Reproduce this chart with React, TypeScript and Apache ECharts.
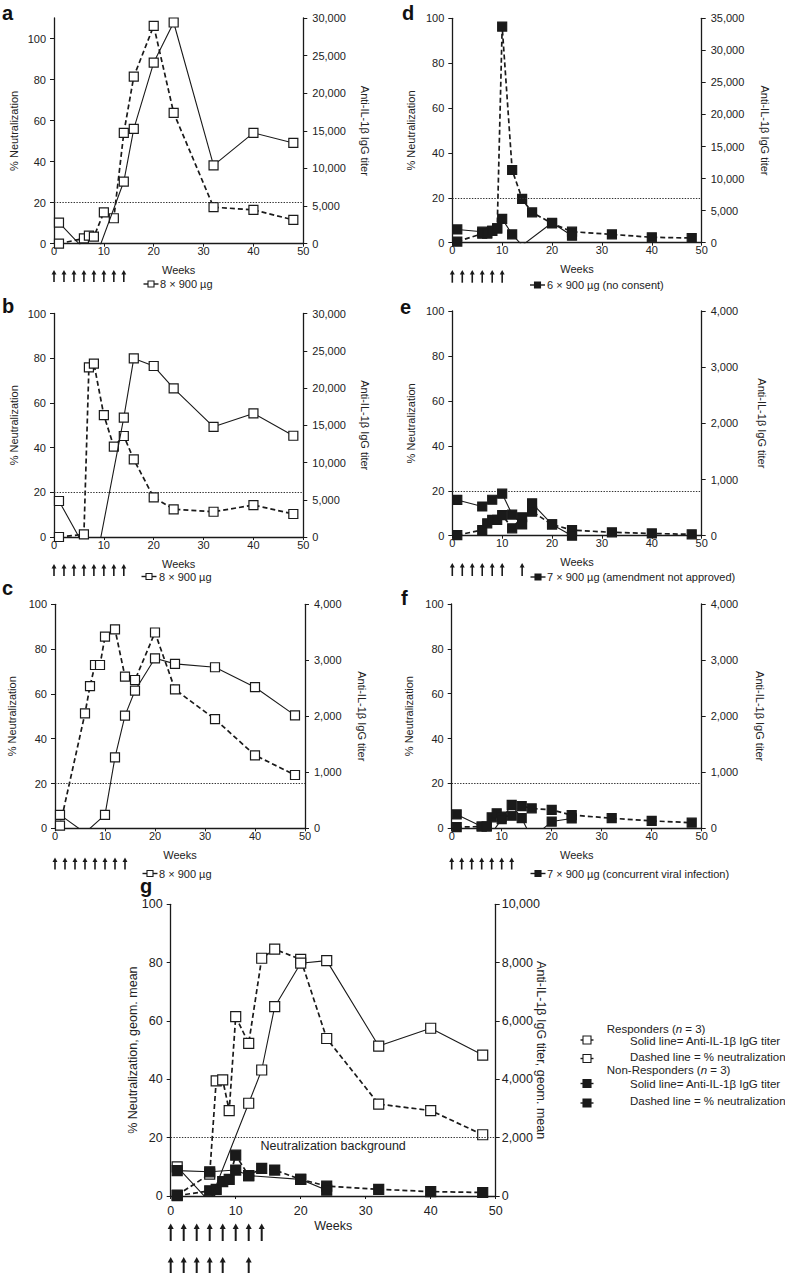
import React, { useEffect, useRef } from "react";
import * as echarts from "echarts";

const FONT = "'Liberation Sans', Arial, Helvetica, sans-serif";
const INK = "#1a1a1a";

// ---------------- data ----------------
// Solid line = anti-IL-1β IgG titer (right axis); dashed line = % neutralization (left axis).
// Titer values below 0 are the off-scale parts of the curves (clipped by the axis, as in the figure).

// Panel a (8 × 900 µg)
const aNeutWeeks = [1, 6, 7, 8, 10, 12, 14, 16, 20, 24, 32, 40, 48];
const aNeutValues = [0, 2.6, 3.9, 3.4, 15.3, 12.4, 54, 81.4, 106.2, 63.8, 17.8, 16.5, 11.6];
const aTiterWeeks = [1, 6, 8, 14, 16, 20, 24, 32, 40, 48];
const aTiterValues = [2810, -700, -2500, 8260, 15270, 24080, 29400, 10420, 14730, 13390];

// Panel b (8 × 900 µg)
const bNeutWeeks = [1, 6, 7, 8, 10, 12, 14, 16, 20, 24, 32, 40, 48];
const bNeutValues = [0, 1.2, 75.9, 77.6, 54.5, 40.4, 45.2, 34.7, 17.7, 12.4, 11.3, 14.3, 10.3];
const bTiterWeeks = [1, 6, 8, 14, 16, 20, 24, 32, 40, 48];
const bTiterValues = [4830, -1200, -4900, 16020, 23970, 22950, 19950, 14790, 16590, 13590];

// Panel c (8 × 900 µg)
const cNeutWeeks = [1, 6, 7, 8, 9, 10, 12, 14, 16, 20, 24, 32, 40, 48];
const cNeutValues = [1.2, 51.3, 63.5, 72.9, 72.9, 85.6, 88.8, 67.7, 66.2, 87.4, 62, 48.7, 32.6, 23.8];
const cTiterWeeks = [1, 6, 10, 12, 14, 16, 20, 24, 32, 40, 48];
const cTiterValues = [240, -80, 240, 1268, 2012, 2460, 3036, 2936, 2876, 2520, 2016];

// Panel d (6 × 900 µg, no consent)
const dNeutWeeks = [1, 6, 7, 8, 9, 10, 12, 14, 16, 20, 24, 32, 40, 48];
const dNeutValues = [0.5, 4.0, 4.2, 5.3, 6.4, 96.3, 32.4, 19.5, 13.5, 8.6, 4.9, 3.7, 2.4, 2.1];
const dTiterWeeks = [1, 6, 7, 8, 9, 10, 12, 14, 20, 24];
const dTiterValues = [2065, 1715, 1470, 1855, 2240, 3710, 1295, -420, 3115, 1085];

// Panel e (7 × 900 µg, amendment not approved)
const eNeutWeeks = [1, 6, 7, 8, 9, 10, 12, 14, 16, 20, 24, 32, 40, 48];
const eNeutValues = [0.3, 2.5, 5.5, 7, 7, 9.2, 3.3, 8.2, 10.7, 5, 2.5, 1.5, 1, 0.6];
const eTiterWeeks = [1, 6, 8, 10, 12, 14, 16, 20, 24];
const eTiterValues = [636, 520, 640, 748, 376, 200, 576, 200, 0];

// Panel f (7 × 900 µg, concurrent viral infection)
const fNeutWeeks = [1, 6, 7, 8, 9, 10, 12, 14, 16, 20, 24, 32, 40, 48];
const fNeutValues = [0.5, 0.8, 0.8, 4.9, 6.7, 5.2, 5.6, 9.9, 8.9, 8.2, 5.9, 4.5, 3.3, 2.5];
const fTiterWeeks = [1, 6, 7, 8, 10, 12, 14, 16, 20, 24];
const fTiterValues = [248, 32, 32, -88, 164, 416, 180, -180, 120, 176];

// Panel g (geometric means) – responders (open) / non-responders (filled)
const gRespNeutWeeks = [1, 6, 7, 8, 9, 10, 12, 14, 16, 20, 24, 32, 40, 48];
const gRespNeutValues = [0.3, 7.5, 39.5, 39.8, 29.3, 61.5, 52.3, 81.5, 84.6, 81.1, 54, 31.5, 29.3, 21];
const gRespTiterWeeks = [1, 6, 12, 14, 16, 20, 24, 32, 40, 48];
const gRespTiterValues = [1000, -200, 3180, 4320, 6490, 7980, 8070, 5140, 5750, 4830];
const gNonNeutWeeks = [1, 6, 7, 8, 9, 10, 12, 14, 16, 20, 24, 32, 40, 48];
const gNonNeutValues = [0.1, 1.8, 2.3, 4.9, 5.7, 14, 7, 9.5, 8.9, 5.7, 3.4, 2.3, 1.5, 1.2];
const gNonTiterWeeks = [1, 6, 10, 12, 20, 24];
const gNonTiterValues = [870, 830, 890, 700, 570, 200];

// vaccination weeks (arrows)
const vaccEight = [0, 2, 4, 6, 8, 10, 12, 14];
const vaccSix = [0, 2, 4, 6, 8, 10];
const vaccSevenE = [0, 2, 4, 6, 8, 10, 14];
const vaccSevenF = [0, 2, 4, 6, 8, 10, 12];
const vaccNonResp = [0, 2, 4, 6, 8, 12];

// tick values
const leftTicks = [0, 20, 40, 60, 80, 100];
const backgroundLevel = 20;

const panelLetters = ["a", "b", "c", "d", "e", "f", "g"];
const legendLabels = [
  "8 × 900 µg",
  "8 × 900 µg",
  "8 × 900 µg",
  "6 × 900 µg (no consent)",
  "7 × 900 µg (amendment not approved)",
  "7 × 900 µg (concurrent viral infection)",
];

// ---------------- layout ----------------
const layout = [
  { grid: [54, 18, 249.3, 225.7], leftMax: 110, rightMax: 30000, rightStep: 5000, leftGap: 35, rightGap: 56.5, rightMargin: 9, title: [2, 13], legend: [151, 284, 160], arrows: [270, 282] },
  { grid: [54, 313.5, 249.3, 223.5], leftMax: 100, rightMax: 30000, rightStep: 5000, leftGap: 35, rightGap: 56.5, rightMargin: 9, title: [2, 306], legend: [149, 576.5, 159], arrows: [564, 576] },
  { grid: [55, 604.3, 250, 224], leftMax: 100, rightMax: 4000, rightStep: 1000, leftGap: 38, rightGap: 51.5, rightMargin: 9, title: [2, 588], legend: [150, 873.5, 159], arrows: [857.5, 869.5] },
  { grid: [452.3, 18.3, 249.4, 224.4], leftMax: 100, rightMax: 35000, rightStep: 5000, leftGap: 36, rightGap: 58, rightMargin: 9, title: [402, 13], legend: [537.5, 285, 547], arrows: [270, 282.7] },
  { grid: [452.3, 311, 249.4, 224.7], leftMax: 100, rightMax: 4000, rightStep: 1000, leftGap: 36, rightGap: 54.5, rightMargin: 9, title: [400, 306.5], legend: [538, 577, 547], arrows: [563, 576] },
  { grid: [451.7, 604, 250, 224.3], leftMax: 100, rightMax: 4000, rightStep: 1000, leftGap: 37, rightGap: 53, rightMargin: 9, title: [401, 598], legend: [538, 873.5, 547], arrows: [857.5, 869.5] },
  { grid: [170.7, 904.3, 325, 291.7], leftMax: 100, rightMax: 10000, rightStep: 2000, leftGap: 31, rightGap: 39, rightMargin: 6, title: [140, 886], legend: null, arrows: null },
];

const panelSeries = [
  { neut: [[aNeutWeeks, aNeutValues, false]], titer: [[aTiterWeeks, aTiterValues, false]], vacc: [vaccEight] },
  { neut: [[bNeutWeeks, bNeutValues, false]], titer: [[bTiterWeeks, bTiterValues, false]], vacc: [vaccEight] },
  { neut: [[cNeutWeeks, cNeutValues, false]], titer: [[cTiterWeeks, cTiterValues, false]], vacc: [vaccEight] },
  { neut: [[dNeutWeeks, dNeutValues, true]], titer: [[dTiterWeeks, dTiterValues, true]], vacc: [vaccSix] },
  { neut: [[eNeutWeeks, eNeutValues, true]], titer: [[eTiterWeeks, eTiterValues, true]], vacc: [vaccSevenE] },
  { neut: [[fNeutWeeks, fNeutValues, true]], titer: [[fTiterWeeks, fTiterValues, true]], vacc: [vaccSevenF] },
  {
    neut: [[gRespNeutWeeks, gRespNeutValues, false], [gNonNeutWeeks, gNonNeutValues, true]],
    titer: [[gRespTiterWeeks, gRespTiterValues, false], [gNonTiterWeeks, gNonTiterValues, true]],
    vacc: [vaccEight, vaccNonResp],
  },
];

const thousands = (v: number) => String(v).replace(/\B(?=(\d{3})+(?!\d))/g, ",");

function buildOption() {
  const grids: any[] = [];
  const xAxes: any[] = [];
  const yAxes: any[] = [];
  const series: any[] = [];

  layout.forEach((L, i) => {
    const isG = i === 6;
    const fs = isG ? 12.5 : 11;
    const [left, top, width, height] = L.grid;
    grids.push({ left, top, width, height, containLabel: false, outerBoundsMode: "none" });
    const axisLine = { show: true, onZero: false, lineStyle: { color: INK, width: 1.3 } };
    xAxes.push({
      type: "value", gridIndex: i, min: 0, max: 50, interval: 10,
      axisLine,
      axisTick: { show: true, length: 3, lineStyle: { color: INK, width: 1 } },
      axisLabel: { fontSize: fs, color: "#222", margin: isG ? 8 : 2, fontFamily: FONT, showMinLabel: true, showMaxLabel: true },
      splitLine: { show: false },
      name: "Weeks", nameLocation: "middle", nameGap: isG ? 23 : 21, nameMoveOverlap: false,
      nameTextStyle: { fontSize: fs, color: "#222", fontFamily: FONT },
    });
    yAxes.push({
      type: "value", gridIndex: i, position: "left", min: 0, max: L.leftMax, interval: 20,
      axisLine,
      axisTick: { show: true, length: 4, customValues: leftTicks, lineStyle: { color: INK, width: 1 } },
      axisLabel: {
        fontSize: fs, color: "#222", margin: 8, fontFamily: FONT, customValues: leftTicks,
        formatter: (v: number) => (v > 100 ? "" : String(v)),
      },
      splitLine: { show: false },
      name: isG ? "% Neutralization, geom. mean" : "% Neutralization",
      nameLocation: "middle", nameGap: L.leftGap, nameRotate: 90, nameMoveOverlap: false,
      nameTextStyle: { fontSize: fs, color: "#222", fontFamily: FONT },
    });
    yAxes.push({
      type: "value", gridIndex: i, position: "right", min: 0, max: L.rightMax, interval: L.rightStep,
      axisLine,
      axisTick: { show: true, length: 4, lineStyle: { color: INK, width: 1 } },
      axisLabel: { fontSize: fs, color: "#222", margin: L.rightMargin, fontFamily: FONT, formatter: thousands },
      splitLine: { show: false },
      name: isG ? "Anti-IL-1β IgG titer, geom. mean" : "Anti-IL-1β IgG titer",
      nameLocation: "middle", nameGap: L.rightGap, nameRotate: -90, nameMoveOverlap: false,
      nameTextStyle: { fontSize: fs, color: "#222", fontFamily: FONT },
    });

    const P = panelSeries[i];
    const sym = isG ? 10 : 9;
    P.neut.forEach((s: any, k: number) => {
      const [weeks, values, filled] = s;
      series.push({
        type: "line", name: `${panelLetters[i]} neutralization ${k}`,
        xAxisIndex: i, yAxisIndex: 2 * i,
        data: weeks.map((w: number, j: number) => [w, values[j]]),
        symbol: "rect", symbolSize: sym, showSymbol: true, clip: true, silent: true,
        itemStyle: { color: filled ? INK : "#fff", borderColor: INK, borderWidth: 1.2 },
        lineStyle: { color: INK, width: 1.7, type: [5, 3] },
        z: 3 + k,
        markLine: k === 0 ? {
          silent: true, symbol: ["none", "none"], animation: false,
          lineStyle: { type: [1.4, 1.4], color: "#333", width: 1.1 },
          label: isG
            ? { show: true, position: "insideMiddleBottom", formatter: "Neutralization background", fontSize: 12.5, color: "#222", fontFamily: FONT, distance: 2 }
            : { show: false },
          data: [{ yAxis: backgroundLevel }],
        } : undefined,
      });
    });
    P.titer.forEach((s: any, k: number) => {
      const [weeks, values, filled] = s;
      series.push({
        type: "line", name: `${panelLetters[i]} titer ${k}`,
        xAxisIndex: i, yAxisIndex: 2 * i + 1,
        data: weeks.map((w: number, j: number) => [w, values[j]]),
        symbol: "rect", symbolSize: sym, showSymbol: true, clip: true, silent: true,
        itemStyle: { color: filled ? INK : "#fff", borderColor: INK, borderWidth: 1.2 },
        lineStyle: { color: INK, width: 1.1, type: "solid" },
        z: 5 + k,
      });
    });
  });

  return {
    animation: false,
    backgroundColor: "#ffffff",
    textStyle: { fontFamily: FONT },
    grid: grids,
    xAxis: xAxes,
    yAxis: yAxes,
    series,
  };
}

function legendIcon(cx: number, cy: number, filled: boolean, half = 7.5, box = 6) {
  return {
    type: "group",
    children: [
      { type: "line", z: 1, shape: { x1: cx - half, y1: cy, x2: cx + half, y2: cy }, style: { stroke: INK, lineWidth: 1.4 } },
      { type: "rect", z: 2, shape: { x: cx - box / 2, y: cy - box / 2, width: box, height: box }, style: { fill: filled ? INK : "#fff", stroke: INK, lineWidth: 1.1 } },
    ],
  };
}

function arrow(x: number, yTop: number, yBot: number, head: number, lw: number) {
  return {
    type: "group",
    children: [
      { type: "line", shape: { x1: x, y1: yTop + head * 0.8, x2: x, y2: yBot }, style: { stroke: INK, lineWidth: lw } },
      { type: "polygon", shape: { points: [[x - head * 0.55, yTop + head], [x, yTop], [x + head * 0.55, yTop + head]] }, style: { fill: INK } },
    ],
  };
}

function buildGraphics(chart: any) {
  const g: any[] = [];
  layout.forEach((L, i) => {
    g.push({
      type: "text", x: L.title[0], y: L.title[1],
      style: { text: panelLetters[i], font: `bold 20px ${FONT}`, fill: "#111", verticalAlign: "middle", align: "left" },
    });
    if (L.legend) {
      const filled = i >= 3;
      g.push(legendIcon(L.legend[0], L.legend[1], filled));
      g.push({
        type: "text", x: L.legend[2], y: L.legend[1],
        style: { text: legendLabels[i], font: `11px ${FONT}`, fill: "#222", verticalAlign: "middle", align: "left" },
      });
    }
    const rows = i === 6 ? [[1223.5, 1241], [1257, 1273]] : [L.arrows];
    panelSeries[i].vacc.forEach((weeks: number[], r: number) => {
      const [yt, yb] = rows[r] as number[];
      weeks.forEach((w) => {
        const x = chart.convertToPixel({ xAxisIndex: i }, w);
        g.push(arrow(x, yt, yb, i === 6 ? 5.5 : 4.5, i === 6 ? 2 : 1.6));
      });
    });
  });

  // legend of panel g
  const lf = `11.5px ${FONT}`;
  const rich = {
    r: { fontSize: 11.5, fontFamily: FONT, fill: "#222", color: "#222", lineHeight: 10 },
    i: { fontSize: 11.5, fontFamily: FONT, fontStyle: "italic", fill: "#222", color: "#222", lineHeight: 10 },
  };
  const row = (x: number, y: number, text: string) => ({
    type: "text", x, y, style: { text, font: lf, fill: "#222", verticalAlign: "middle", lineHeight: 10 },
  });
  g.push({ type: "text", x: 606.7, y: 1029, style: { text: "{r|Responders (}{i|n}{r| = 3)}", rich, verticalAlign: "middle", align: "left" } });
  g.push(legendIcon(587, 1040, false, 6.5, 8));
  g.push(row(630, 1040.5, "Solid line= Anti-IL-1β IgG titer"));
  g.push(legendIcon(587, 1058.5, false, 6.5, 8));
  g.push(row(630, 1056.5, "Dashed line = % neutralization"));
  g.push({ type: "text", x: 606.7, y: 1069.5, style: { text: "{r|Non-Responders (}{i|n}{r| = 3)}", rich, verticalAlign: "middle", align: "left" } });
  g.push(legendIcon(587, 1083.5, true, 6.5, 8));
  g.push(row(630, 1083.5, "Solid line= Anti-IL-1β IgG titer"));
  g.push(legendIcon(587, 1103, true, 6.5, 8));
  g.push(row(630, 1100.5, "Dashed line = % neutralization"));
  return g;
}

export default function App() {
  const ref = useRef<HTMLDivElement>(null);
  useEffect(() => {
    if (!ref.current) return;
    const chart = echarts.init(ref.current, undefined, { renderer: "svg" });
    chart.setOption(buildOption() as any);
    chart.setOption({ graphic: buildGraphics(chart) } as any);
    return () => chart.dispose();
  }, []);
  return (
    <div
      ref={ref}
      style={{ position: "absolute", left: 0, top: 0, width: 785, height: 1273, background: "#fff" }}
    />
  );
}
